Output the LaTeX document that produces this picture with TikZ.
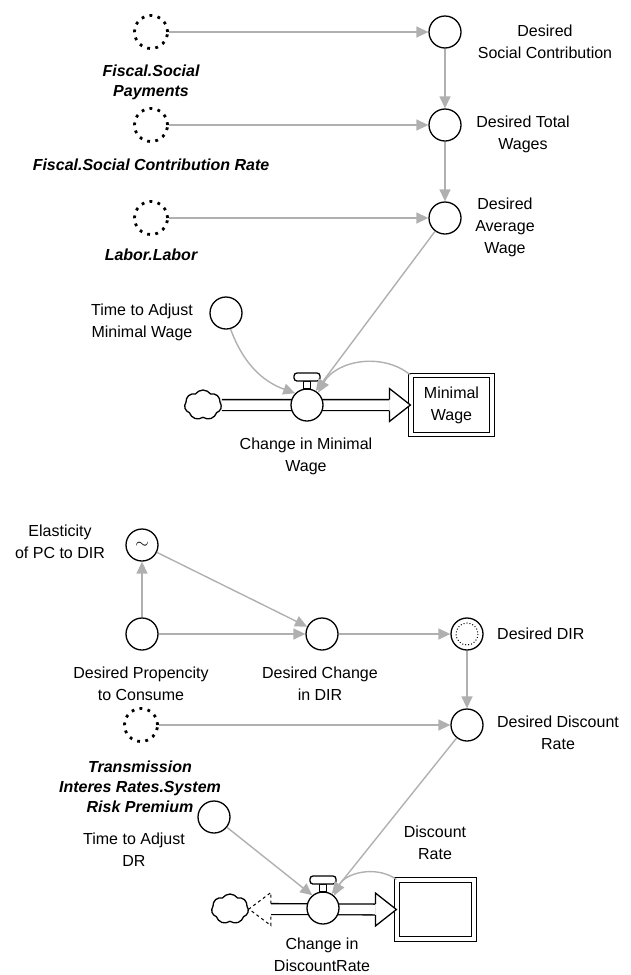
\documentclass[tikz,border=0pt]{standalone}
\usepackage{fontspec}
\setmainfont{Liberation Sans}
\usetikzlibrary{arrows.meta,shapes.symbols}

\definecolor{linkgray}{RGB}{176,176,176}

\tikzset{
  aux/.style={circle, draw, line width=1.3pt, minimum size=32, inner sep=0pt, fill=white},
  ghost/.style={circle, draw, line width=2.8pt, dash pattern=on 2.8pt off 5.4pt, minimum size=33, inner sep=0pt},
  stock/.style={draw, double, double distance=3.5pt, line width=1.2pt, align=center, inner sep=0pt},
  flowcloud/.style={cloud, draw, line width=1.3pt, cloud puffs=7, cloud puff arc=110, aspect=1.3, minimum width=37, minimum height=30, inner sep=0pt},
  pipe/.style={draw, double, double distance=9.5pt, line width=1.3pt},
  pipehead/.style={draw, line width=1.3pt, fill=white, line join=miter},
  link/.style={draw=linkgray, line width=1.4pt, -{Triangle[length=12pt, width=11pt]}},
  lbl/.style={align=center, inner sep=0pt},
  ext/.style={lbl, font=\fontsize{16}{20}\selectfont\bfseries\itshape}
}

\begin{document}
\begin{tikzpicture}[x=1pt, y=-1pt, font=\fontsize{16}{22}\selectfont]
  \useasboundingbox (0,0) rectangle (631,975);

  % minimal wage
  \node[ghost] at (151, 32) (fsp) {};
  \node[ghost] at (151, 125) (fscr) {};
  \node[ghost] at (151, 218) (lab) {};
  \node[aux] at (445, 32) (dsc) {};
  \node[aux] at (445, 125) (dtw) {};
  \node[aux] at (445, 218) (daw) {};
  \node[aux] at (226, 313) (tamw) {};
  \node[flowcloud] at (203, 405) (cl1) {};
  \node[stock, minimum width=81, minimum height=59] at (451.5, 405) (mw)
    {Minimal\\Wage};

  \node[ext] at (151, 82.5) (fsplbl) {Fiscal.Social\\Payments};
  \node[ext] at (151, 165) (fscrlbl) {Fiscal.Social Contribution Rate};
  \node[ext] at (151, 255) (lablbl) {Labor.Labor};
  \node[lbl] at (545, 42) (dsclbl) {Desired\\Social Contribution};
  \node[lbl] at (523, 134) (dtwlbl) {Desired Total\\Wages};
  \node[lbl] at (505, 227) (dawlbl) {Desired\\Average\\Wage};
  \node[lbl] at (142, 322) (tamwlbl) {Time to Adjust\\Minimal Wage};
  \node[lbl] at (306, 456) (cimwlbl) {Change in Minimal\\Wage};

  % discount rate
  \node[aux] at (142, 545) (elas) {\(\sim\)};
  \node[aux] at (142, 634) (dpc) {};
  \node[aux] at (322, 634) (dcdir) {};
  \node[aux] at (467, 634) (ddir) {};
  \draw[line width=1pt, dotted] (ddir.center) circle (11);
  \node[ghost] at (141, 725) (trp) {};
  \node[aux] at (467, 725) (ddr) {};
  \node[aux] at (214, 817) (tadr) {};
  \node[flowcloud] at (230, 909) (cl2) {};
  \node[stock, minimum width=77, minimum height=59] at (435.5, 909.5) (dr) {};

  \node[lbl] at (60, 541.5) (elaslbl) {Elasticity\\of PC to DIR};
  \node[lbl] at (141, 684) (dpclbl) {Desired Propencity\\to Consume};
  \node[lbl] at (320, 684) (dcdirlbl) {Desired Change\\in DIR};
  \node[lbl, anchor=west] at (497, 634) (ddirlbl) {Desired DIR};
  \node[lbl] at (558, 732.5) (ddrlbl) {Desired Discount\\Rate};
  \node[ext] at (140, 787) (trplbl) {Transmission\\Interes Rates.System\\Risk Premium};
  \node[lbl] at (134, 850) (tadrlbl) {Time to Adjust\\DR};
  \node[lbl] at (435, 842.5) (drlbl) {Discount\\Rate};
  \node[lbl] at (322, 955) (cidrlbl) {Change in\\DiscountRate};

  % pipes
  \draw[pipe] (cl1.east) -- ([xshift=-21]mw.west);
  \draw[pipehead] ([shift={(-21,-5.5)}]mw.west) -- ++(0,-11) -- (mw.west)
    -- ([shift={(-21,16.5)}]mw.west) -- ++(0,-11);
  \draw[pipe] ([xshift=22]cl2.east) -- ([xshift=-21]dr.west);
  \draw[pipehead] ([shift={(-21,-5.5)}]dr.west) -- ++(0,-11) -- (dr.west)
    -- ([shift={(-21,16.5)}]dr.west) -- ++(0,-11);
  \draw[pipehead, dashed, line width=1pt] ([shift={(22,-5.5)}]cl2.east) -- ++(0,-11) -- (cl2.east)
    -- ([shift={(22,16.5)}]cl2.east) -- ++(0,-11);

  \node[aux] at (307, 405) (cimw) {};
  \node[aux] at (323, 908) (cidr) {};
  \foreach \v in {cimw, cidr} {
    \draw[line width=1.3pt, fill=white] ([shift={(-3.5,-24)}]\v.center) rectangle ([shift={(3.5,-16)}]\v.center);
    \draw[line width=1.3pt, fill=white, rounded corners=3] ([shift={(-13,-32)}]\v.center) rectangle ([shift={(13,-24)}]\v.center);
  }

  % links
  \path[link] (fsp) -- (dsc);
  \path[link] (fscr) -- (dtw);
  \path[link] (lab) -- (daw);
  \path[link] (dsc) -- (dtw);
  \path[link] (dtw) -- (daw);
  \path[link] (daw) -- (cimw.58);
  \path[link] (tamw) to[bend right=25] (cimw.135);
  \path[link] (mw.north west) to[bend right=50] (cimw.48);

  \path[link] (dpc) -- (elas);
  \path[link] (elas) -- (dcdir);
  \path[link] (dpc) -- (dcdir);
  \path[link] (dcdir) -- (ddir);
  \path[link] (ddir) -- (ddr);
  \path[link] (trp) -- (ddr);
  \path[link] (ddr) -- (cidr.58);
  \path[link] (tadr) -- (cidr.130);
  \path[link] (dr.north west) to[bend right=50] (cidr.48);
\end{tikzpicture}
\end{document}
